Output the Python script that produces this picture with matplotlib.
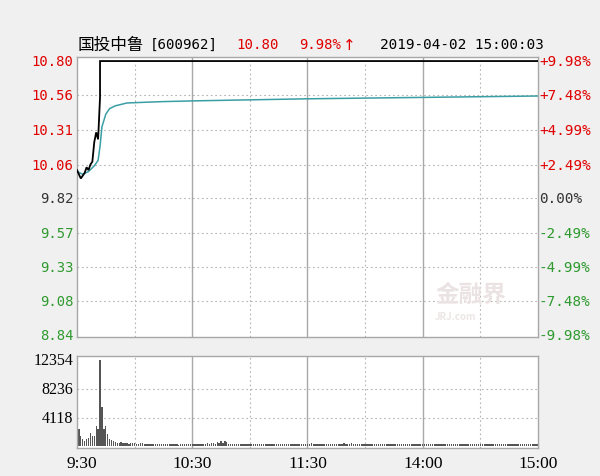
"""
Intraday time-share chart: 国投中鲁 600962, 2019-04-02
"""

import matplotlib.pyplot as plt
from matplotlib.transforms import ScaledTranslation

plt.rcParams['font.family'] = ['Noto Sans CJK SC', 'DejaVu Sans']

# ---------------------------------------------------------------------------
# Data
# ---------------------------------------------------------------------------

prev_close = 9.82
price_ticks = [10.80, 10.56, 10.31, 10.06, 9.82, 9.57, 9.33, 9.08, 8.84]
pct_labels = ["+9.98%", "+7.48%", "+4.99%", "+2.49%", "0.00%",
              "-2.49%", "-4.99%", "-7.48%", "-9.98%"]

# minute index from 9:30 (0..240, lunch break removed)
price_min = [0, 1, 2, 3, 4, 5, 6, 7, 8, 9, 10, 11, 12, 240]
price_val = [10.02, 9.99, 9.96, 9.98, 10.00, 10.04, 10.02, 10.06, 10.08,
             10.22, 10.29, 10.24, 10.54, 10.80]
limit_min = 12  # limit up reached here, price stays at 10.80

avg_min = [0, 3, 6, 9, 11, 12, 13, 15, 17, 20, 26, 35, 45, 60, 80,
           100, 120, 150, 180, 210, 240]
avg_val = [10.01, 9.99, 10.01, 10.05, 10.09, 10.19, 10.33, 10.42, 10.46,
           10.48, 10.50, 10.505, 10.51, 10.515, 10.52, 10.525, 10.53,
           10.535, 10.54, 10.545, 10.55]

vol_ticks = [4118, 8236, 12354]
volumes = [
    3450, 2450, 1500, 1000, 700, 1100, 1200, 1900, 1400, 1500,
    2900, 2400, 12354, 5600, 2400, 2900, 1800, 1100, 900, 700,
    650, 500, 450, 550, 400, 480, 420, 380, 450, 500,
    420, 380, 350, 400, 450, 380, 320, 360, 300, 350,
    280, 320, 300, 340, 260, 300, 280, 320, 300, 280,
    260, 300, 280, 250, 320, 300, 280, 260, 300, 280,
    300, 260, 320, 280, 300, 350, 300, 380, 420, 350,
    400, 450, 380, 600, 500, 700, 450, 800, 600, 350,
    300, 320, 280, 300, 260, 280, 300, 320, 280, 260,
    300, 280, 260, 300, 320, 280, 260, 300, 280, 300,
    320, 280, 300, 260, 280, 300, 320, 300, 280, 260,
    300, 280, 260, 300, 280, 260, 300, 280, 320, 260,
    300, 350, 400, 300, 320, 280, 300, 260, 280, 300,
    320, 300, 280, 300, 260, 280, 320, 300, 280, 450,
    300, 320, 280, 500, 350, 300, 280, 320, 300, 280,
    260, 300, 320, 280, 300, 260, 280, 300, 320, 280,
    300, 280, 260, 300, 280, 320, 300, 280, 260, 300,
    280, 300, 320, 280, 260, 300, 280, 300, 320, 280,
    300, 260, 280, 300, 320, 280, 300, 260, 280, 300,
    320, 300, 280, 260, 300, 280, 320, 300, 280, 300,
    260, 300, 320, 280, 300, 260, 280, 300, 320, 280,
    300, 280, 260, 300, 280, 320, 300, 280, 300, 260,
    280, 300, 320, 280, 300, 260, 280, 300, 320, 280,
    300, 280, 260, 300, 280, 320, 300, 280, 260, 300,
    350,
]

time_ticks = [0, 60, 120, 180, 240]
time_labels = ["9:30", "10:30", "11:30", "14:00", "15:00"]

# ---------------------------------------------------------------------------
# Styles
# ---------------------------------------------------------------------------

BG = "#f0f0f0"
RED = "#e00000"
GREEN = "#2f9a2f"
DARK = "#333333"
BORDER = "#a8a8a8"
GRID = "#b4b4b4"
MONO = "DejaVu Sans Mono"


def level_color(value, ref):
    if value > ref + 1e-9:
        return RED
    if value < ref - 1e-9:
        return GREEN
    return DARK


def draw_vgrid(ax):
    for m in [30, 90, 150, 210]:
        ax.axvline(m, color=GRID, lw=0.8, ls=(0, (1.5, 2.5)), zorder=0)
    for m in [60, 120, 180]:
        ax.axvline(m, color=BORDER, lw=1.0, zorder=0)


fig = plt.figure(figsize=(6.0, 4.77), dpi=100, facecolor=BG)

# ---------------------------------------------------------------------------
# Price panel
# ---------------------------------------------------------------------------

ax = fig.add_axes([0.1283, 0.2914, 0.7683, 0.587])
ax.set_facecolor("white")
ax.set_xlim(0, 240)
ax.set_ylim(8.826, 10.829)
for s in ax.spines.values():
    s.set_color(BORDER)
    s.set_linewidth(1.0)
ax.set_xticks([])
ax.set_yticks([])

for p in price_ticks[1:-1]:
    ax.axhline(p, color=GRID, lw=0.8, ls=(0, (1.5, 2.5)), zorder=0)
draw_vgrid(ax)

# price line: opening minutes, then pinned at limit up
px = price_min[:-1] + [limit_min, price_min[-1]]
py = price_val[:-1] + [price_val[-1], price_val[-1]]
ax.plot(px, py, color="black", lw=1.3, zorder=3, solid_joinstyle="miter")
ax.plot(avg_min, avg_val, color="#3a9ea5", lw=1.1, zorder=2)

trans_l = ax.get_yaxis_transform()
for p in price_ticks:
    ax.text(-0.008, p, f"{p:.2f}", transform=trans_l, ha="right", va="center",
            fontsize=10, color=level_color(p, prev_close), family=MONO)
for p, lab in zip(price_ticks, pct_labels):
    ax.text(1.002, p, lab, transform=trans_l, ha="left", va="center",
            fontsize=10.3, color=level_color(p, prev_close), family=MONO)

# faint watermark
ax.text(0.855, 0.155, "金融界", transform=ax.transAxes, ha="center",
        va="center", fontsize=17, fontweight="bold", color="#ebe3e3", zorder=1)
ax.text(0.82, 0.075, "JRJ.com", transform=ax.transAxes, ha="center",
        va="center", fontsize=7, fontweight="bold", color="#ece6e6", zorder=1)

# ---------------------------------------------------------------------------
# Volume panel
# ---------------------------------------------------------------------------

vx = fig.add_axes([0.1283, 0.0587, 0.7683, 0.1929])
vx.set_facecolor("white")
vx.set_xlim(0, 240)
vx.set_ylim(-250, 12930)
for s in vx.spines.values():
    s.set_color(BORDER)
    s.set_linewidth(1.0)
vx.set_yticks([])
vx.set_xticks(time_ticks)
vx.set_xticklabels(time_labels, fontsize=12.5, family="Liberation Serif",
                   color="black")
vx.tick_params(axis="x", length=0, pad=5)
# first label sits a little to the right of the panel edge
first = vx.get_xticklabels()[0]
first.set_transform(first.get_transform()
                    + ScaledTranslation(5 / 100, 0, fig.dpi_scale_trans))

for v in vol_ticks[:-1]:
    vx.axhline(v, color=GRID, lw=0.8, ls=(0, (1.5, 2.5)), zorder=0)
draw_vgrid(vx)

vx.bar(range(len(volumes)), volumes, width=0.7, color="#555555",
       align="center", zorder=2)

trans_v = vx.get_yaxis_transform()
for v in vol_ticks:
    vx.text(-0.008, v, f"{v}", transform=trans_v, ha="right", va="center",
            fontsize=11.5, family="Liberation Serif", color="black")

# ---------------------------------------------------------------------------
# Header
# ---------------------------------------------------------------------------

hy = 1 - 45 / 477
fig.text(78 / 600, hy, "国投中鲁", ha="left", va="center",
         fontsize=12, color="black")
fig.text(150 / 600, hy, "[600962]", ha="left", va="center",
         fontsize=10.2, color="black", family=MONO)
fig.text(236 / 600, hy, "10.80", ha="left", va="center",
         fontsize=10.2, color=RED, family=MONO)
fig.text(299 / 600, hy, "9.98%", ha="left", va="center",
         fontsize=10, color=RED, family=MONO)
fig.text(343 / 600, hy, "↑", ha="left", va="center",
         fontsize=11, color=RED, family="DejaVu Sans")
fig.text(380 / 600, hy, "2019-04-02 15:00:03", ha="left",
         va="center", fontsize=10.4, color="black", family=MONO)

fig.savefig("out.png", dpi=100, facecolor=BG)
